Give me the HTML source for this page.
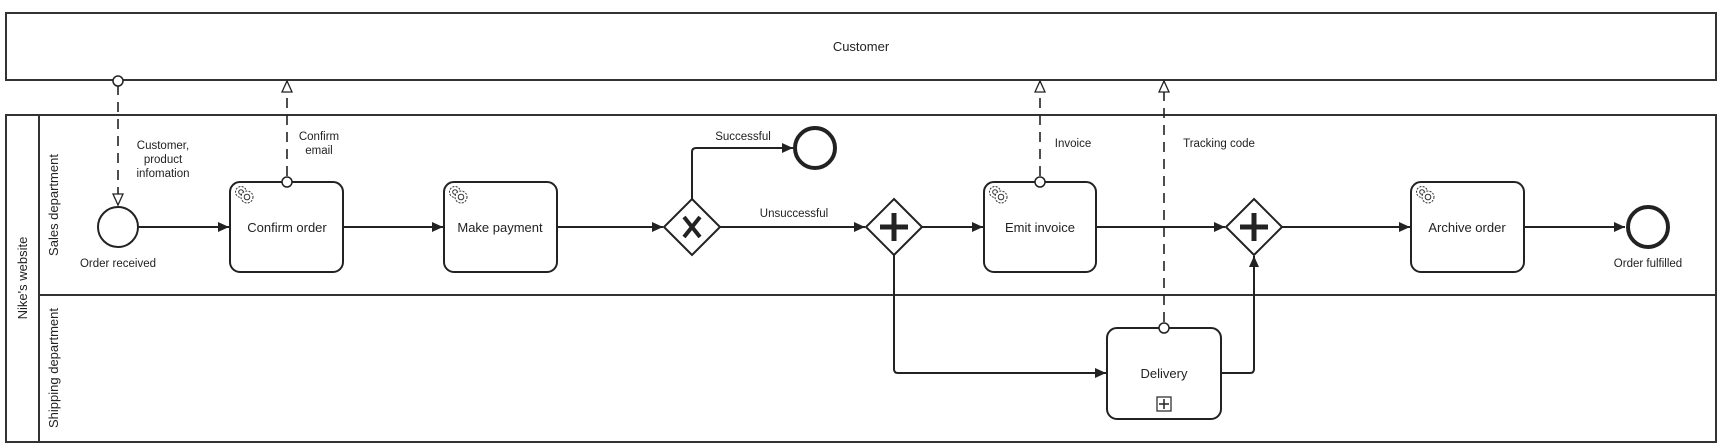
<!DOCTYPE html>
<html><head><meta charset="utf-8"><style>
html,body{margin:0;padding:0;background:#fff;}
svg{display:block;font-family:"Liberation Sans",Arial,sans-serif;}
</style></head><body>
<svg width="1723" height="443" viewBox="0 0 1723 443" xmlns="http://www.w3.org/2000/svg">
<defs>
<marker id="a" markerWidth="12" markerHeight="12" refX="11" refY="6" orient="auto" markerUnits="userSpaceOnUse">
<path d="M0,1 L11,6 L0,11 Z" fill="#222"/></marker>
<marker id="o" markerWidth="14" markerHeight="14" refX="12" refY="7" orient="auto" markerUnits="userSpaceOnUse">
<path d="M1,2 L12,7 L1,12 Z" fill="#fff" stroke="#222" stroke-width="1.3"/></marker>
<g id="gear" fill="none" stroke="#333" stroke-width="1">
<circle cx="7" cy="7" r="5.5" stroke-dasharray="2 1.3"/><circle cx="7" cy="7" r="2.3"/>
<circle cx="13" cy="12" r="6" fill="#fff" stroke-dasharray="2 1.3"/><circle cx="13" cy="12" r="2.8"/>
</g>
</defs>
<g fill="none" stroke="#333" stroke-width="2">
<rect x="6" y="13" width="1710" height="67"/>
<rect x="6" y="115" width="1710" height="327"/>
<line x1="39" y1="115" x2="39" y2="442"/>
<line x1="39" y1="295" x2="1716" y2="295"/>
</g>
<text x="861" y="51" font-size="13" text-anchor="middle" fill="#222">Customer</text>
<text transform="translate(27,278) rotate(-90)" font-size="13" text-anchor="middle" fill="#222">Nike's website</text>
<text transform="translate(58,205) rotate(-90)" font-size="13" text-anchor="middle" fill="#222">Sales department</text>
<text transform="translate(58,368) rotate(-90)" font-size="13" text-anchor="middle" fill="#222">Shipping department</text>

<g fill="none" stroke="#222" stroke-width="2">
<line x1="139" y1="227" x2="229" y2="227" marker-end="url(#a)"/>
<line x1="343" y1="227" x2="443" y2="227" marker-end="url(#a)"/>
<line x1="557" y1="227" x2="663" y2="227" marker-end="url(#a)"/>
<path d="M692,199 V152 Q692,148 696,148 H793" marker-end="url(#a)"/>
<line x1="720" y1="227" x2="865" y2="227" marker-end="url(#a)"/>
<line x1="922" y1="227" x2="983" y2="227" marker-end="url(#a)"/>
<line x1="1096" y1="227" x2="1225" y2="227" marker-end="url(#a)"/>
<line x1="1282" y1="227" x2="1410" y2="227" marker-end="url(#a)"/>
<line x1="1524" y1="227" x2="1625" y2="227" marker-end="url(#a)"/>
<path d="M894,255 V369 Q894,373 898,373 H1106" marker-end="url(#a)"/>
<path d="M1221,373 H1250 Q1254,373 1254,369 V256" marker-end="url(#a)"/>
</g>
<g fill="none" stroke="#222" stroke-width="1.6" stroke-dasharray="10 7">
<line x1="118" y1="85" x2="118" y2="205" marker-end="url(#o)"/>
<line x1="287" y1="176" x2="287" y2="81" marker-end="url(#o)"/>
<line x1="1040" y1="176" x2="1040" y2="81" marker-end="url(#o)"/>
<line x1="1164" y1="322" x2="1164" y2="81" marker-end="url(#o)"/>
</g>

<circle cx="118" cy="227" r="20" fill="#fff" stroke="#222" stroke-width="2"/>
<circle cx="815" cy="148" r="20" fill="#fff" stroke="#222" stroke-width="4"/>
<circle cx="1648" cy="227" r="20" fill="#fff" stroke="#222" stroke-width="4"/>

<g fill="#fff" stroke="#222" stroke-width="2">
<rect x="230" y="182" width="113" height="90" rx="10"/>
<rect x="444" y="182" width="113" height="90" rx="10"/>
<rect x="984" y="182" width="112" height="90" rx="10"/>
<rect x="1411" y="182" width="113" height="90" rx="10"/>
<rect x="1107" y="328" width="114" height="91" rx="10"/>
<path d="M692,199 L720,227 L692,255 L664,227 Z"/>
<path d="M894,199 L922,227 L894,255 L866,227 Z"/>
<path d="M1254,199 L1282,227 L1254,255 L1226,227 Z"/>
</g>
<g fill="#fff" stroke="#222" stroke-width="1.5">
<circle cx="118" cy="81" r="5"/><circle cx="287" cy="182" r="5"/><circle cx="1040" cy="182" r="5"/><circle cx="1164" cy="328" r="5"/>
</g>
<g stroke="#222" stroke-width="5" stroke-linecap="butt">
<path d="M684,217 L700,237 M700,217 L684,237" stroke-width="4"/>
<path d="M894,213 V241 M880,227 H908"/>
<path d="M1254,213 V241 M1240,227 H1268"/>
</g>
<use href="#gear" x="234" y="185"/><use href="#gear" x="448" y="185"/>
<use href="#gear" x="988" y="185"/><use href="#gear" x="1415" y="185"/>
<rect x="1157" y="397" width="14" height="14" fill="#fff" stroke="#222" stroke-width="1.2"/>
<path d="M1164,399 V409 M1159,404 H1169" stroke="#222" stroke-width="1.5"/>

<g font-size="13" text-anchor="middle" fill="#222">
<text x="287" y="232">Confirm order</text>
<text x="500" y="232">Make payment</text>
<text x="1040" y="232">Emit invoice</text>
<text x="1467" y="232">Archive order</text>
<text x="1164" y="378">Delivery</text>
</g>
<g font-size="11.5" text-anchor="middle" fill="#222">
<text x="118" y="267">Order received</text>
<text x="1648" y="267">Order fulfilled</text>
<text x="163" y="149">Customer,</text><text x="163" y="163">product</text><text x="163" y="177">infomation</text>
<text x="319" y="140">Confirm</text><text x="319" y="154">email</text>
<text x="743" y="140">Successful</text>
<text x="794" y="217">Unsuccessful</text>
<text x="1073" y="147">Invoice</text>
<text x="1219" y="147">Tracking code</text>
</g>
</svg>
</body></html>
